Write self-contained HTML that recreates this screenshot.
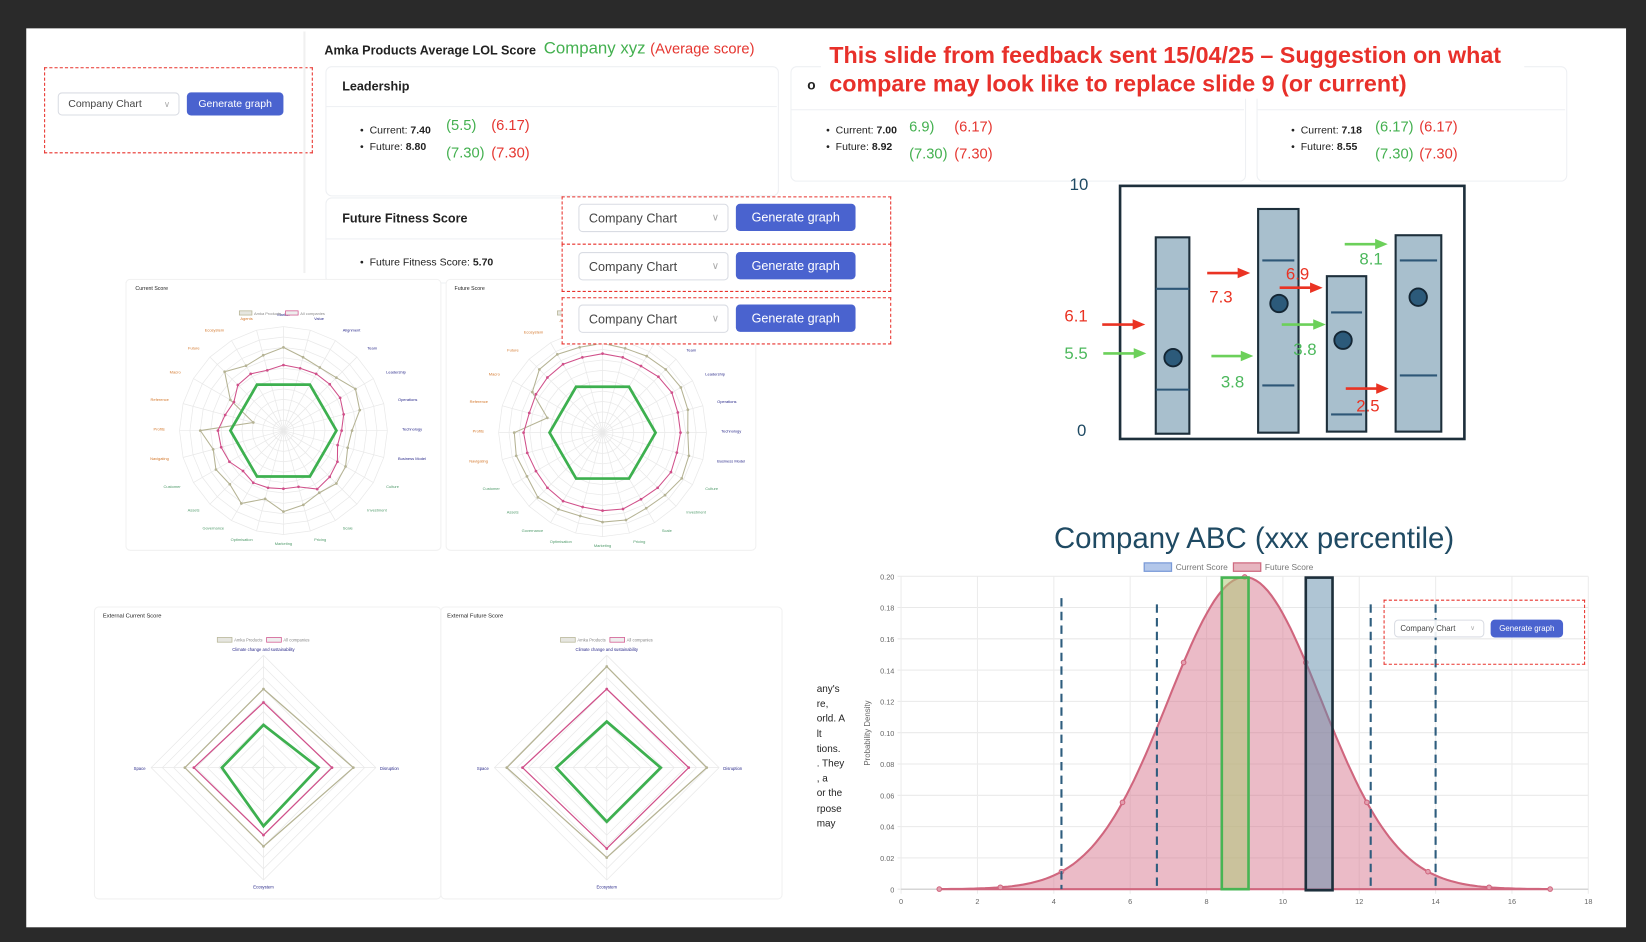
<!DOCTYPE html>
<html><head><meta charset="utf-8">
<style>
html,body{margin:0;padding:0;background:#2a2a2a;overflow:hidden;width:1646px;height:942px}
#w{position:absolute;left:0;top:0;width:1568px;height:897px;transform:scale(1.04974,1.05017);transform-origin:0 0;font-family:"Liberation Sans",sans-serif}
#slide{position:absolute;left:25px;top:27px;width:1524px;height:856px;background:#fff}
.a{position:absolute;white-space:nowrap}
.card{position:absolute;border:1px solid #eef0f3;border-radius:6px;background:#fff}
.dash{position:absolute;border:1.6px dashed #e8322c}
.sel{position:absolute;border:1px solid #d9dce3;border-radius:4px;background:#fff;color:#444;box-sizing:border-box;padding-left:9px;display:flex;align-items:center}
.sel:after{content:"\2228";position:absolute;right:8px;color:#aaa;font-size:0.8em}
.btn{position:absolute;background:#4a63cf;color:#fff;border-radius:4px;display:flex;align-items:center;justify-content:center}
.g{color:#43b04f}.r{color:#e53630}
.bl{font-size:10px;color:#222}
.bl b{font-weight:bold}
</style></head><body>
<div id="w">
<div id="slide"></div>

<!-- top left dashed -->
<div class="dash" style="left:42px;top:64px;width:254px;height:80px"></div>
<div class="sel" style="left:55px;top:88px;width:116px;height:22px;font-size:10px">Company Chart</div>
<div class="btn" style="left:178px;top:88px;width:92px;height:22px;font-size:10px">Generate graph</div>
<div class="a" style="left:289px;top:30px;width:2px;height:230px;background:#f0f0f0"></div>

<div class="a" style="left:309px;top:41px;font-size:12px;font-weight:bold;color:#222">Amka Products Average LOL Score</div>
<div class="a g" style="left:518px;top:38px;font-size:16px">Company xyz <span class="r" style="font-size:14px">(Average score)</span></div>

<div class="card" style="left:310px;top:63px;width:430px;height:122px"></div>
<div class="a" style="left:311px;top:101px;width:429px;height:1px;background:#eef0f3"></div>
<div class="a" style="left:326px;top:75px;font-size:12px;font-weight:bold;color:#222">Leadership</div>
<div class="a bl" style="left:343px;top:119px">• &nbsp;Current: <b>7.40</b></div>
<div class="a bl" style="left:343px;top:135px">• &nbsp;Future: <b>8.80</b></div>
<div class="a g" style="left:425px;top:111px;font-size:14px">(5.5)</div>
<div class="a r" style="left:468px;top:111px;font-size:14px">(6.17)</div>
<div class="a g" style="left:425px;top:137px;font-size:14px">(7.30)</div>
<div class="a r" style="left:468px;top:137px;font-size:14px">(7.30)</div>

<div class="card" style="left:753px;top:63px;width:432px;height:108px"></div>
<div class="a" style="left:754px;top:104px;width:431px;height:1px;background:#eef0f3"></div>
<div class="a" style="left:769px;top:73px;font-size:13px;font-weight:bold;color:#222">o</div>
<div class="a bl" style="left:787px;top:119px">• &nbsp;Current: <b>7.00</b></div>
<div class="a bl" style="left:787px;top:135px">• &nbsp;Future: <b>8.92</b></div>
<div class="a g" style="left:866px;top:112px;font-size:14px">6.9)</div>
<div class="a r" style="left:909px;top:112px;font-size:14px">(6.17)</div>
<div class="a g" style="left:866px;top:138px;font-size:14px">(7.30)</div>
<div class="a r" style="left:909px;top:138px;font-size:14px">(7.30)</div>

<div class="card" style="left:1197px;top:63px;width:294px;height:108px"></div>
<div class="a" style="left:1198px;top:104px;width:293px;height:1px;background:#eef0f3"></div>
<div class="a bl" style="left:1230px;top:119px">• &nbsp;Current: <b>7.18</b></div>
<div class="a bl" style="left:1230px;top:135px">• &nbsp;Future: <b>8.55</b></div>
<div class="a g" style="left:1310px;top:112px;font-size:14px">(6.17)</div>
<div class="a r" style="left:1352px;top:112px;font-size:14px">(6.17)</div>
<div class="a g" style="left:1310px;top:138px;font-size:14px">(7.30)</div>
<div class="a r" style="left:1352px;top:138px;font-size:14px">(7.30)</div>

<div class="a" style="left:782px;top:38px;width:670px;height:56px;background:#fff"></div>
<div class="a" style="left:790px;top:39px;font-size:22.2px;font-weight:bold;color:#e8302a;line-height:27px">This slide from feedback sent 15/04/25 – Suggestion on what<br>compare may look like to replace slide 9 (or current)</div>

<div class="card" style="left:310px;top:188px;width:240px;height:80px"></div>
<div class="a" style="left:311px;top:227px;width:225px;height:1px;background:#eef0f3"></div>
<div class="a" style="left:326px;top:201px;font-size:12px;font-weight:bold;color:#222">Future Fitness Score</div>
<div class="a bl" style="left:343px;top:245px">• &nbsp;Future Fitness Score: <b>5.70</b></div>

<svg id="sv" class="a" style="left:0;top:0" width="1568" height="897"></svg>

<div class="dash" style="left:535px;top:187px;width:312px;height:44px;background:#fff"></div>
<div class="dash" style="left:535px;top:232px;width:312px;height:44px;background:#fff"></div>
<div class="dash" style="left:535px;top:283px;width:312px;height:43px;background:#fff"></div>
<div class="sel" style="left:551px;top:194px;width:143px;height:27px;font-size:12px">Company Chart</div>
<div class="btn" style="left:701px;top:194px;width:114px;height:26px;font-size:12px">Generate graph</div>
<div class="sel" style="left:551px;top:240px;width:143px;height:27px;font-size:12px">Company Chart</div>
<div class="btn" style="left:701px;top:240px;width:114px;height:26px;font-size:12px">Generate graph</div>
<div class="sel" style="left:551px;top:290px;width:143px;height:27px;font-size:12px">Company Chart</div>
<div class="btn" style="left:701px;top:290px;width:114px;height:26px;font-size:12px">Generate graph</div>

<div class="a" style="left:778px;top:650px;font-size:9.5px;line-height:14.2px;color:#222">any's<br>re,<br>orld. A<br>lt<br>tions.<br>. They<br>, a<br>or the<br>rpose<br>may</div>

<div class="a" style="left:1004px;top:497px;font-size:28px;color:#1f4a63">Company ABC (xxx percentile)</div>

<div class="dash" style="left:1318px;top:571px;width:190px;height:60px;background:transparent"></div>
<div class="sel" style="left:1328px;top:590px;width:86px;height:17px;font-size:7.5px;padding-left:5px;background:rgba(255,255,255,0.9)">Company Chart</div>
<div class="btn" style="left:1420px;top:590px;width:69px;height:17px;font-size:7.5px">Generate graph</div>
</div>

<script>
const S=document.getElementById('sv');const NS='http://www.w3.org/2000/svg';
function el(t,a,txt){const e=document.createElementNS(NS,t);for(const k in a)e.setAttribute(k,a[k]);if(txt!==undefined)e.textContent=txt;S.appendChild(e);return e;}
function poly(pts,a){a.points=pts.map(p=>p[0].toFixed(1)+','+p[1].toFixed(1)).join(' ');return el('polygon',a);}
function radar(cx,cy,R,n,series){
  for(let k=1;k<=10;k++){const pts=[];for(let i=0;i<n;i++){const a=-Math.PI/2+i*2*Math.PI/n;pts.push([cx+R*k/10*Math.cos(a),cy+R*k/10*Math.sin(a)]);}poly(pts,{fill:'none',stroke:'#e9e9e9','stroke-width':0.7});}
  for(let i=0;i<n;i++){const a=-Math.PI/2+i*2*Math.PI/n;el('line',{x1:cx,y1:cy,x2:cx+R*Math.cos(a),y2:cy+R*Math.sin(a),stroke:'#e9e9e9','stroke-width':0.7});}
  series.forEach(s=>{const m=s.v.length;const pts=s.v.map((v,i)=>{const a=(s.rot!==undefined?s.rot:-Math.PI/2)+i*2*Math.PI/m;return [cx+R*v/10*Math.cos(a),cy+R*v/10*Math.sin(a)];});
    poly(pts,{fill:'none',stroke:s.c,'stroke-width':s.w});
    if(s.dot)pts.forEach(p=>el('circle',{cx:p[0],cy:p[1],r:1.3,fill:s.c}));});
}
[[120,266,300,258],[425,266,295,258],[90,578,330,278],[420,578,325,278]].forEach(r=>el('rect',{x:r[0],y:r[1],width:r[2],height:r[3],rx:4,fill:'#fff',stroke:'#f1f1f1'}));
const tan1=[8,7.3,7,7.2,8,7.6,6.6,6.4,6.9,7.2,6.9,7.4,7.8,6.8,8.1,7.3,7.5,7.0,8.0,3.0,5.9,8.0,7.2,7.5];
const pk1=[6.3,6.2,6.3,6.3,6.3,6.0,5.6,5.4,6.0,6.3,6.5,5.6,5.6,5.7,5.8,5.5,6.0,6.2,6.3,5.8,5.5,6.2,6.3,6.0];
radar(270,410,99,24,[{v:tan1,c:'#b5b394',w:1,dot:1},{v:pk1,c:'#d0508a',w:1,dot:1},{v:[5.1,5.1,5.1,5.1,5.1,5.1],c:'#3db04f',w:2.6,rot:0}]);
const tan2=[8.6,8.4,8.5,8.6,8.7,8.5,8.2,8.6,8.8,8.5,8.4,8.7,8.6,8.3,8.5,8.8,8.4,8.6,8.5,5.5,7.8,8.6,8.7,8.5];
const pk2=[7.6,7.5,7.4,7.6,7.7,7.5,7.5,7.4,7.6,7.5,7.4,7.6,7.5,7.4,7.6,7.5,7.4,7.5,7.6,7.3,7.4,7.5,7.6,7.5];
radar(574,412,99,24,[{v:tan2,c:'#b5b394',w:1,dot:1},{v:pk2,c:'#d0508a',w:1,dot:1},{v:[5.1,5.1,5.1,5.1,5.1,5.1],c:'#3db04f',w:2.6,rot:0}]);
function lbls(cx,cy,R,n){for(let i=0;i<n;i++){const a=-Math.PI/2+i*2*Math.PI/n;const x=cx+(R+14)*Math.cos(a),y=cy+(R+10)*Math.sin(a);
 const col=(i<=7)?'#2a2a8a':(i<=16?'#4f9a6a':'#d4782c');el('text',{x:x,y:y,'font-size':3.8,fill:col,'text-anchor':Math.cos(a)>0.2?'start':(Math.cos(a)<-0.2?'end':'middle')},['Market','Value','Alignment','Team','Leadership','Operations','Technology','Business Model','Culture','Investment','Scale','Pricing','Marketing','Optimisation','Governance','Assets','Customer','Navigating','Profits','Reference','Macro','Future','Ecosystem','Agents'][i]);}}
lbls(270,410,99,24);lbls(574,412,99,24);
el('text',{x:129,y:276,'font-size':5,fill:'#222'},'Current Score');
el('text',{x:433,y:276,'font-size':5,fill:'#222'},'Future Score');
[[228,296],[531,296]].forEach(p=>{el('rect',{x:p[0],y:p[1],width:12,height:4,fill:'#e6e6e0',stroke:'#b5b394','stroke-width':0.7});el('text',{x:p[0]+14,y:p[1]+4,'font-size':3.8,fill:'#888'},'Amka Products');el('rect',{x:p[0]+44,y:p[1],width:12,height:4,fill:'#eee',stroke:'#d0508a','stroke-width':0.7});el('text',{x:p[0]+58,y:p[1]+4,'font-size':3.8,fill:'#888'},'All companies');});
radar(251,731,107,4,[{v:[7,8,7,7],c:'#b5b394',w:1.2,dot:1},{v:[5.8,6.1,6.0,6.2],c:'#d0508a',w:1.2,dot:1},{v:[3.8,4.9,5.2,3.7],c:'#3db04f',w:2.6}]);
radar(578,731,107,4,[{v:[9,8.9,8,8.9],c:'#b5b394',w:1.2,dot:1},{v:[7,7.3,7.2,7.5],c:'#d0508a',w:1.2,dot:1},{v:[4.1,4.8,4.8,4.5],c:'#3db04f',w:2.6}]);
el('text',{x:98,y:588,'font-size':5.5,fill:'#222'},'External Current Score');
el('text',{x:426,y:588,'font-size':5.5,fill:'#222'},'External Future Score');
[[207,607],[534,607]].forEach(p=>{el('rect',{x:p[0],y:p[1],width:14,height:4.5,fill:'#e6e6e0',stroke:'#b5b394','stroke-width':0.7});el('text',{x:p[0]+16,y:p[1]+4,'font-size':4,fill:'#888'},'Amka Products');el('rect',{x:p[0]+47,y:p[1],width:14,height:4.5,fill:'#eee',stroke:'#d0508a','stroke-width':0.7});el('text',{x:p[0]+63,y:p[1]+4,'font-size':4,fill:'#888'},'All companies');});
[[251],[578]].forEach(c=>{el('text',{x:c[0],y:620,'font-size':4,fill:'#2a2a8a','text-anchor':'middle'},'Climate change and sustainability');
 el('text',{x:c[0]-118,y:733,'font-size':4,fill:'#2a2a8a','text-anchor':'middle'},'Space');el('text',{x:c[0]+120,y:733,'font-size':4,fill:'#2a2a8a','text-anchor':'middle'},'Disruption');el('text',{x:c[0],y:846,'font-size':4,fill:'#2a2a8a','text-anchor':'middle'},'Ecosystem');});

el('rect',{x:1067,y:177,width:328,height:241,fill:'#fff',stroke:'#1d2f3b','stroke-width':2.5});
const bars=[[1101,226,1133,413,[275,371],[1117.5,340.6]],[1198.5,199,1237,412,[248,367],[1218.4,289]],[1264,263,1301.5,411,[297.5,394.6],[1279.4,324]],[1329.5,224,1373,411,[248,357.5],[1351,283]]];
bars.forEach((b,j)=>{el('rect',{x:b[0],y:b[1],width:b[2]-b[0],height:b[3]-b[1],fill:'#a8bfcd',stroke:'#1d2f3b','stroke-width':2});
 b[4].forEach(y=>el('line',{x1:b[0]+(j==0?0:4),x2:b[2]-(j==0?0:4),y1:y,y2:y,stroke:'#2e5777','stroke-width':2}));
 el('circle',{cx:b[5][0],cy:b[5][1],r:8.3,fill:'#2c5a7a',stroke:'#142634','stroke-width':1.8});});
function arrow(x1,x2,y,c){el('line',{x1:x1,y1:y,x2:x2-10,y2:y,stroke:c,'stroke-width':2.5});el('polygon',{points:`${x2},${y} ${x2-12},${y-5} ${x2-12},${y+5}`,fill:c});}
const R='#ea3323',G='#6cd05a';
arrow(1050,1091,309,R);arrow(1051,1092,336.5,G);arrow(1150,1191,260,R);arrow(1154,1194,339,G);arrow(1219,1260,274,R);arrow(1221,1263,309,G);arrow(1281,1322,232.5,G);arrow(1282,1323,370,R);
[['6.1',1014,306,'#ea3323'],['5.5',1014,342,'#4cb85c'],['7.3',1152,288,'#ea3323'],['3.8',1163,369,'#4cb85c'],['6.9',1225,266,'#ea3323'],['3.8',1232,338,'#4cb85c'],['8.1',1295,252,'#4cb85c'],['2.5',1292,392,'#ea3323'],['10',1019,181,'#1f4a63'],['0',1026,415,'#1f4a63']].forEach(t=>el('text',{x:t[1],y:t[2],'font-size':16,fill:t[3]},t[0]));

const X=v=>858.4+v*36.37, Y=p=>846.7-p*1490;
for(let i=0;i<=10;i++){const y=Y(i*0.02);el('line',{x1:855,x2:1513,y1:y,y2:y,stroke:'#e9e9e9','stroke-width':1});el('text',{x:852,y:y+3,'font-size':7,fill:'#666','text-anchor':'end'},i==0?'0':(i*0.02).toFixed(2));}
for(let v=0;v<=18;v+=2){el('line',{x1:X(v),x2:X(v),y1:549,y2:851,stroke:'#ececec','stroke-width':1});el('text',{x:X(v),y:861,'font-size':7,fill:'#666','text-anchor':'middle'},String(v));}
el('line',{x1:858.4,x2:1513,y1:Y(0),y2:Y(0),stroke:'#ccc','stroke-width':1});
el('text',{x:0,y:0,'font-size':7.5,fill:'#666','text-anchor':'middle',transform:'translate(829,698) rotate(-90)'},'Probability Density');
const f=x=>0.1995*Math.exp(-(x-9)*(x-9)/8);
let d=`M${X(1)},${Y(0)}`;for(let x=1;x<=17.001;x+=0.1)d+=` L${X(x).toFixed(1)},${Y(f(x)).toFixed(1)}`;d+=` L${X(17)},${Y(0)} Z`;
el('path',{d:d,fill:'rgba(214,112,138,0.48)',stroke:'#d0667e','stroke-width':2});
for(let x=1;x<=17.01;x+=1.6)el('circle',{cx:X(x),cy:Y(f(x)),r:2.2,fill:'#e3a0b0',stroke:'#d0667e'});
el('rect',{x:X(8.4),y:550,width:X(9.1)-X(8.4),height:Y(0)-550,fill:'rgba(175,200,120,0.55)',stroke:'#47b553','stroke-width':2.5});
el('rect',{x:X(10.6),y:550,width:X(11.3)-X(10.6),height:Y(0)-549,fill:'rgba(95,140,170,0.5)',stroke:'#1d2f3b','stroke-width':2.5});
[[4.2,0.186],[6.7,0.182],[12.3,0.182],[14.0,0.182]].forEach(v=>el('line',{x1:X(v[0]),x2:X(v[0]),y1:Y(v[1]),y2:Y(0),stroke:'#2e5d7e','stroke-width':2,'stroke-dasharray':'8,5'}));
el('rect',{x:1090,y:536,width:26,height:8,fill:'#b3c7ea',stroke:'#7a9ad8','stroke-width':1.2});el('text',{x:1120,y:543,'font-size':8,fill:'#777'},'Current Score');
el('rect',{x:1175,y:536,width:26,height:8,fill:'#e7b5c0',stroke:'#cf6a80','stroke-width':1.2});el('text',{x:1205,y:543,'font-size':8,fill:'#777'},'Future Score');
</script>
</body></html>
